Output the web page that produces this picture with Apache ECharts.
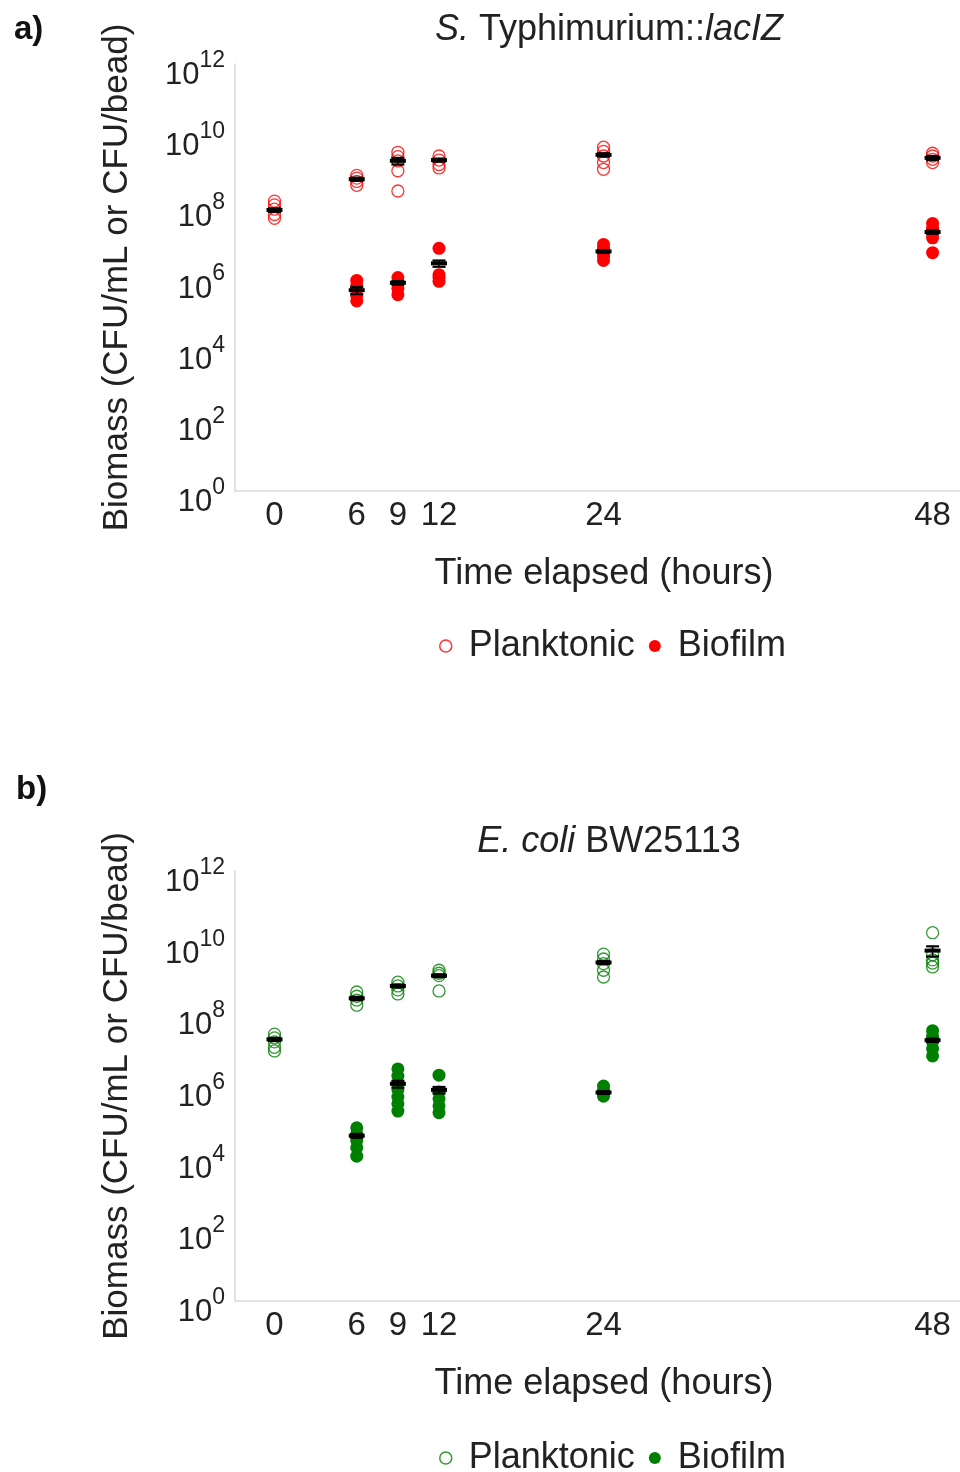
<!DOCTYPE html>
<html>
<head>
<meta charset="utf-8">
<script src="https://cdn.jsdelivr.net/npm/echarts@6/dist/echarts.min.js"></script>
<style>
  html, body { margin: 0; padding: 0; background: #ffffff; }
  #chart { width: 960px; height: 1472px; }
</style>
</head>
<body>
<div id="chart"></div>
<script>
// Sampling times (hours) and the x-axis labels shown
const hours = [0, 6, 9, 12, 24, 48];
const hourLabels = [0, 6, 9, 12, 24, 48];
// y-axis decade labels (powers of ten)
const decadeExponents = [0, 2, 4, 6, 8, 10, 12];

// S. Typhimurium::lacIZ — replicate counts per time point (CFU/mL or CFU/bead)
const salPlanktonic = [
  [1.4e8, 1.1e8, 8.3e7, 5.9e7, 4.6e7],
  [7.4e8, 6.2e8, 5.0e8, 3.9e8],
  [3.3e9, 2.5e9, 1.9e9, 1.0e9, 2.7e8],
  [2.6e9, 2.0e9, 1.5e9, 1.2e9],
  [4.6e9, 3.5e9, 2.6e9, 1.7e9, 1.1e9],
  [3.1e9, 2.6e9, 2.1e9, 1.7e9]
];
const salBiofilm = [
  [],
  [8.3e5, 5.9e5, 3.1e5, 2.2e5],
  [1.0e6, 7.2e5, 4.9e5, 3.3e5],
  [6.6e6, 1.2e6, 1.0e6, 7.8e5],
  [8.5e6, 6.6e6, 5.0e6, 3.9e6, 3.0e6],
  [3.3e7, 2.4e7, 1.7e7, 1.3e7, 5.0e6]
];
const salPlanktonicMean = [7.9e7, 5.8e8, 1.9e9, 2.0e9, 2.8e9, 2.3e9];
const salPlanktonicSem  = [0.9e7, 0.6e8, 0.4e9, 0.2e9, 0.3e9, 0.3e9];
const salBiofilmMean    = [null, 4.4e5, 7.1e5, 2.5e6, 5.4e6, 1.9e7];
const salBiofilmSem     = [null, 1.0e5, 0.8e5, 0.5e6, 0.5e6, 0.2e7];

// E. coli BW25113 — replicate counts per time point
const ecoPlanktonic = [
  [2.8e7, 2.2e7, 1.7e7, 1.2e7, 9.5e6],
  [4.2e8, 3.2e8, 2.5e8, 1.8e8],
  [7.9e8, 6.2e8, 4.8e8, 3.7e8],
  [1.7e9, 1.4e9, 1.2e9, 4.5e8],
  [4.8e9, 3.5e9, 2.6e9, 1.7e9, 1.1e9],
  [1.9e10, 4.6e9, 3.3e9, 2.7e9, 2.1e9]
];
const ecoBiofilm = [
  [],
  [6.8e4, 4.6e4, 3.0e4, 1.9e4, 1.1e4],
  [3.0e6, 1.9e6, 1.2e6, 7.8e5, 4.9e5, 3.2e5, 2.0e5],
  [2.0e6, 6.8e5, 4.4e5, 2.8e5, 1.8e5],
  [1.0e6, 7.8e5, 6.0e5, 5.2e5],
  [3.5e7, 2.5e7, 1.7e7, 1.1e7, 6.9e6]
];
const ecoPlanktonicMean = [2.0e7, 2.8e8, 6.2e8, 1.2e9, 2.8e9, 6.0e9];
const ecoPlanktonicSem  = [0.2e7, 0.3e8, 0.6e8, 1.1e8, 2.6e8, 1.9e9];
const ecoBiofilmMean    = [null, 4.1e4, 1.15e6, 7.8e5, 6.6e5, 1.9e7];
const ecoBiofilmSem     = [null, 0.5e4, 0.25e6, 1.6e5, 0.6e5, 0.2e7];

const FONT = 'Liberation Sans, Arial, sans-serif';
const TEXT = '#222222';
const AXIS_GREY = '#d9d9d9';
const RED = '#ff0000';
const GREEN = '#008000';

function points(groups) {
  const out = [];
  groups.forEach((vals, i) => vals.forEach(v => out.push([hours[i], v])));
  return out;
}
function meanBars(means, sems) {
  const out = [];
  means.forEach((m, i) => {
    if (m != null) out.push([hours[i], m, m - sems[i], m + sems[i]]);
  });
  return out;
}

// Mean line with SEM whiskers and caps
function renderMean(params, api) {
  const x = api.value(0);
  const pm = api.coord([x, api.value(1)]);
  const plo = api.coord([x, api.value(2)]);
  const phi = api.coord([x, api.value(3)]);
  const cap = { stroke: '#000000', lineWidth: 2.2 };
  return {
    type: 'group',
    children: [
      { type: 'line', shape: { x1: pm[0], y1: plo[1], x2: pm[0], y2: phi[1] }, style: { stroke: '#000', lineWidth: 1.5 } },
      { type: 'line', shape: { x1: pm[0] - 6.5, y1: plo[1], x2: pm[0] + 6.5, y2: plo[1] }, style: cap },
      { type: 'line', shape: { x1: pm[0] - 6.5, y1: phi[1], x2: pm[0] + 6.5, y2: phi[1] }, style: cap },
      { type: 'line', shape: { x1: pm[0] - 8, y1: pm[1], x2: pm[0] + 8, y2: pm[1] }, style: { stroke: '#000', lineWidth: 4 } }
    ]
  };
}

function xAxisFor(gridIndex) {
  return {
    type: 'value', gridIndex: gridIndex, min: -2.88, max: 50,
    axisLine: { show: true, onZero: false, lineStyle: { color: AXIS_GREY, width: 1.5 } },
    axisTick: { show: false },
    splitLine: { show: false },
    axisLabel: {
      customValues: hourLabels, margin: 8,
      fontSize: 33, color: TEXT, fontFamily: FONT
    },
    name: 'Time elapsed (hours)', nameLocation: 'middle', nameGap: 65,
    nameTextStyle: { fontSize: 36, color: TEXT, fontFamily: FONT, padding: [0, 0, 0, 13] }
  };
}
function yAxisFor(gridIndex) {
  return {
    type: 'log', logBase: 10, gridIndex: gridIndex, min: 1, max: 1e12, interval: 2,
    axisLine: { show: true, onZero: false, lineStyle: { color: AXIS_GREY, width: 1.5 } },
    axisTick: { show: false },
    splitLine: { show: false },
    axisLabel: {
      margin: 10, padding: [12, 0, 0, 0],
      formatter: v => {
        const e = Math.round(Math.log10(v));
        return decadeExponents.indexOf(e) >= 0 ? '{b|10}{s|' + e + '}' : '';
      },
      rich: {
        b: { fontSize: 31, lineHeight: 42, verticalAlign: 'bottom', color: TEXT, fontFamily: FONT },
        s: { fontSize: 23, lineHeight: 14, verticalAlign: 'top', color: TEXT, fontFamily: FONT }
      }
    },
    name: 'Biomass (CFU/mL or CFU/bead)', nameLocation: 'middle', nameGap: 100,
    nameTextStyle: { fontSize: 35, color: TEXT, fontFamily: FONT }
  };
}

function panelSeries(idx, color, plank, bio, pMean, pSem, bMean, bSem) {
  return [
    {
      name: 'Planktonic', type: 'scatter', xAxisIndex: idx, yAxisIndex: idx,
      symbol: 'circle', symbolSize: 12,
      itemStyle: { color: 'rgba(255,255,255,0)', borderColor: color, borderWidth: 1.3 },
      data: points(plank), z: 2
    },
    {
      name: 'Biofilm', type: 'scatter', xAxisIndex: idx, yAxisIndex: idx,
      symbol: 'circle', symbolSize: 13,
      itemStyle: { color: color, opacity: 1 },
      data: points(bio), z: 2
    },
    {
      type: 'custom', xAxisIndex: idx, yAxisIndex: idx, renderItem: renderMean,
      data: meanBars(pMean, pSem), z: 5, encode: { x: 0, y: [1, 2, 3] }
    },
    {
      type: 'custom', xAxisIndex: idx, yAxisIndex: idx, renderItem: renderMean,
      data: meanBars(bMean, bSem), z: 5, encode: { x: 0, y: [1, 2, 3] }
    }
  ];
}

function legendFor(top, color) {
  return {
    top: top, left: 434, orient: 'horizontal',
    itemWidth: 36, itemHeight: 12, itemGap: 14,
    textStyle: { fontSize: 36, color: TEXT, fontFamily: FONT },
    selectedMode: false,
    data: [
      { name: 'Planktonic', icon: 'circle', itemStyle: { color: 'rgba(255,255,255,0)', borderColor: color, borderWidth: 1.5 } },
      { name: 'Biofilm', icon: 'circle', itemStyle: { color: color, borderWidth: 0 } }
    ]
  };
}

const titleText = { fontSize: 36, fontWeight: 'normal', color: TEXT, fontFamily: FONT };
const italicRich = { i: { fontStyle: 'italic', fontSize: 36, color: TEXT, fontFamily: FONT } };

const chart = echarts.init(document.getElementById('chart'), null, { renderer: 'canvas' });
chart.setOption({
  animation: false,
  backgroundColor: '#ffffff',
  title: [
    { text: 'a)', left: 9, top: 8, textStyle: { fontSize: 33, fontWeight: 'bold', color: '#111', fontFamily: FONT } },
    { text: '{i|S.} Typhimurium::{i|lacIZ}', left: 604, top: 7, textAlign: 'center',
      textStyle: Object.assign({}, titleText, { rich: italicRich }) },
    { text: 'b)', left: 11, top: 768, textStyle: { fontSize: 33, fontWeight: 'bold', color: '#111', fontFamily: FONT } },
    { text: '{i|E. coli} BW25113', left: 604, top: 819, textAlign: 'center',
      textStyle: Object.assign({}, titleText, { rich: italicRich }) }
  ],
  legend: [legendFor(623, RED), legendFor(1435, GREEN)],
  grid: [
    { left: 235, right: 0, top: 64, height: 427, containLabel: false },
    { left: 235, right: 0, top: 871, height: 430, containLabel: false }
  ],
  xAxis: [xAxisFor(0), xAxisFor(1)],
  yAxis: [yAxisFor(0), yAxisFor(1)],
  series: [].concat(
    panelSeries(0, RED, salPlanktonic, salBiofilm, salPlanktonicMean, salPlanktonicSem, salBiofilmMean, salBiofilmSem),
    panelSeries(1, GREEN, ecoPlanktonic, ecoBiofilm, ecoPlanktonicMean, ecoPlanktonicSem, ecoBiofilmMean, ecoBiofilmSem)
  )
});
</script>
</body>
</html>
